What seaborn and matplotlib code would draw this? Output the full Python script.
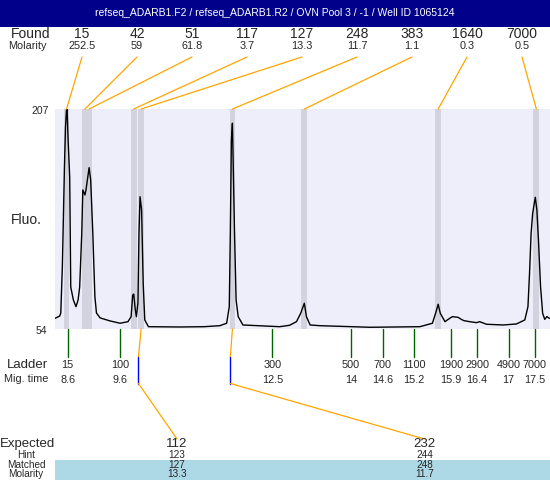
import numpy as np
import pandas as pd
import matplotlib
matplotlib.use("Agg")
import matplotlib.pyplot as plt
import matplotlib.transforms as mtransforms
import seaborn as sns

# ------------------------------------------------------------
# Data
# ------------------------------------------------------------
TITLE = "refseq_ADARB1.F2 / refseq_ADARB1.R2 / OVN Pool 3 / -1 / Well ID 1065124"

FOUND_SIZES = [15, 42, 51, 117, 127, 248, 383, 1640, 7000]
FOUND_MOLARITY = ["252.5", "59", "61.8", "3.7", "13.3", "11.7", "1.1", "0.3", "0.5"]
FOUND_TIMES = [8.58, 8.93, 9.01, 9.86, 10.0, 11.74, 13.11, 15.66, 17.53]

LADDER_SIZES = [15, 100, 300, 500, 700, 1100, 1900, 2900, 4900, 7000]
LADDER_TIMES = [8.6, 9.6, 12.5, 14, 14.6, 15.2, 15.9, 16.4, 17, 17.5]

EXPECTED = [112, 232]
HINT = [123, 244]
MATCHED = [127, 248]
MATCHED_MOLARITY = ["13.3", "11.7"]
EXPECTED_TIMES = [9.95, 11.70]
MATCHED_TIMES = [10.0, 11.74]

Y_MIN, Y_MAX = 54, 207

TRACE_TIME = [
    8.36, 8.45, 8.47, 8.50, 8.54, 8.56, 8.58, 8.59, 8.61, 8.64, 8.66, 8.71,
    8.76, 8.80, 8.83, 8.87, 8.89, 8.93, 8.95, 8.99, 9.01, 9.04, 9.08, 9.12,
    9.15, 9.22, 9.41, 9.60, 9.75, 9.81, 9.84, 9.86, 9.89, 9.91, 9.94, 9.96,
    9.98, 10.01, 10.04, 10.07, 10.14, 10.74, 11.20, 11.50, 11.63, 11.68, 11.70,
    11.72, 11.74, 11.75, 11.78, 11.81, 11.85, 11.94, 12.64, 12.83, 12.96, 13.04,
    13.11, 13.15, 13.22, 13.41, 14.36, 15.31, 15.55, 15.61, 15.66, 15.70, 15.79,
    15.85, 15.93, 16.04, 16.10, 16.15, 16.26, 16.39, 16.45, 16.58, 16.90, 17.15,
    17.31, 17.37, 17.40, 17.43, 17.46, 17.51, 17.54, 17.57, 17.61, 17.65, 17.69,
    17.73, 17.78,
]
TRACE_FLUO = [
    61.4, 63.0, 65.1, 97.1, 166.7, 194.5, 207.0, 207.0, 185.4, 159.7, 83.2, 74.2,
    69.5, 74.2, 83.2, 120.8, 150.7, 147.2, 150.7, 161.1, 166.2, 157.6, 120.8, 76.5,
    65.1, 61.7, 59.6, 58.0, 59.1, 62.6, 77.6, 78.3, 67.2, 62.6, 72.1, 120.8,
    146.0, 136.8, 86.0, 60.3, 55.6, 55.4, 55.6, 56.3, 58.0, 69.5, 120.8,
    185.4, 197.1, 178.5, 120.8, 74.2, 62.6, 56.8, 55.6, 56.6, 59.1, 64.9,
    71.9, 62.6, 56.8, 56.3, 55.2, 55.6, 58.0, 64.9, 71.2, 64.9, 59.1,
    60.7, 62.6, 62.1, 60.7, 59.8, 59.1, 58.4, 59.1, 57.3, 56.8, 57.5,
    60.3, 69.5, 92.7, 120.6, 134.5, 145.6, 136.8, 115.9, 83.4, 64.9, 60.7,
    62.6, 61.4,
]

# ------------------------------------------------------------
# Style
# ------------------------------------------------------------
C_TITLE_BG = "#00008B"
C_PLOT_BG = "#EEEEFB"
C_BAND = "#D3D3DF"
C_LINK = "#FFA500"
C_LADDER = "#006400"
C_EXPECT = "#0000FF"
C_TABLE = "#ADD8E6"

sns.set_style("white")
plt.rcParams["font.family"] = ["Liberation Sans", "DejaVu Sans"]

W, H = 550, 480
fig = plt.figure(figsize=(W / 100, H / 100), dpi=100)

# overlay in pixel units for the text rows around the plot
ov = fig.add_axes([0, 0, 1, 1], zorder=2)
ov.set_xlim(0, W)
ov.set_ylim(H, 0)
ov.axis("off")
ov.patch.set_alpha(0)

# main electropherogram area
PX_L, PX_R, PX_T, PX_B = 55, 550, 109, 329
ax = fig.add_axes([PX_L / W, 1 - PX_B / H, (PX_R - PX_L) / W, (PX_B - PX_T) / H], zorder=1)
ax.set_facecolor(C_PLOT_BG)
ax.set_xlim(8.36, 17.79)
ax.set_ylim(Y_MIN, Y_MAX)
for s in ax.spines.values():
    s.set_visible(False)
ax.set_xticks([])
ax.set_yticks([])

for t in FOUND_TIMES:
    ax.axvspan(t - 0.055, t + 0.055, color=C_BAND, lw=0, zorder=1)

trace = pd.DataFrame({"time": TRACE_TIME, "fluo": TRACE_FLUO})
sns.lineplot(data=trace, x="time", y="fluo", color="black", lw=1.0,
             sort=False, estimator=None, ax=ax, zorder=3)
ax.set_xlabel("")
ax.set_ylabel("")

# x in data time, y in pixel rows
blend = mtransforms.blended_transform_factory(ax.transData, ov.transData)

# ------------------------------------------------------------
# Title bar
# ------------------------------------------------------------
ov.add_patch(plt.Rectangle((0, 0), W, 26.5, color=C_TITLE_BG, lw=0))
ov.text(W / 2, 13.5, TITLE, color="white", fontsize=7.5, ha="center", va="center")

# ------------------------------------------------------------
# Found / Molarity rows with links to peaks
# ------------------------------------------------------------
ov.text(31, 34.5, "Found", fontsize=10, ha="center", va="center")
ov.text(27, 46, "Molarity", fontsize=7.8, ha="center", va="center")
for i, (sz, mol, t) in enumerate(zip(FOUND_SIZES, FOUND_MOLARITY, FOUND_TIMES)):
    xl = 82 + 55 * i
    ov.text(xl, 34.5, str(sz), fontsize=10, ha="center", va="center")
    ov.text(xl, 46, mol, fontsize=7.8, ha="center", va="center")
    ov.annotate("", xy=(t, Y_MAX), xycoords=ax.transData, xytext=(xl, 57),
                textcoords="data", annotation_clip=False,
                arrowprops=dict(arrowstyle="-", color=C_LINK, lw=0.9,
                                shrinkA=0, shrinkB=0))

# y-axis labels
ov.text(49, 110.5, str(Y_MAX), fontsize=7.5, ha="right", va="center")
ov.text(47, 330.5, str(Y_MIN), fontsize=7.5, ha="right", va="center")
ov.text(26, 220, "Fluo.", fontsize=10, ha="center", va="center")

# ------------------------------------------------------------
# Ladder rows
# ------------------------------------------------------------
ov.text(27, 365.5, "Ladder", fontsize=9.5, ha="center", va="center")
ov.text(26, 379.5, "Mig. time", fontsize=7.8, ha="center", va="center")
for sz, t in zip(LADDER_SIZES, LADDER_TIMES):
    ov.plot([t, t], [PX_B, 357], color=C_LADDER, lw=1.0, transform=blend)
    ov.text(t, 365.5, str(sz), fontsize=7.8, ha="center", va="center", transform=blend)
    ov.text(t, 380, f"{t:g}", fontsize=7.8, ha="center", va="center", transform=blend)

# ------------------------------------------------------------
# Expected table with links
# ------------------------------------------------------------
ov.add_patch(plt.Rectangle((PX_L, 460), W - PX_L, 20, color=C_TABLE, lw=0))
ov.text(27.5, 443.5, "Expected", fontsize=9.5, ha="center", va="center")
ov.text(26, 454.5, "Hint", fontsize=7.2, ha="center", va="center")
ov.text(26, 464.5, "Matched", fontsize=7.2, ha="center", va="center")
ov.text(26, 474, "Molarity", fontsize=7.2, ha="center", va="center")

EXP_LABEL_X = [177, 424.5]
for exp, hint, mat, mol, te, tm, xl in zip(EXPECTED, HINT, MATCHED, MATCHED_MOLARITY,
                                          EXPECTED_TIMES, MATCHED_TIMES, EXP_LABEL_X):
    ov.plot([tm, te], [PX_B, 357], color=C_LINK, lw=0.9, transform=blend)
    ov.plot([te, te], [357, 383.5], color=C_EXPECT, lw=1.0, transform=blend)
    ov.annotate("", xy=(te, 383.5), xycoords=blend, xytext=(xl, 439),
                textcoords="data", annotation_clip=False,
                arrowprops=dict(arrowstyle="-", color=C_LINK, lw=0.9,
                                shrinkA=0, shrinkB=0))
    ov.text(xl, 444, str(exp), fontsize=9.5, ha="center", va="center")
    ov.text(xl, 455, str(hint), fontsize=7.2, ha="center", va="center")
    ov.text(xl, 465, str(mat), fontsize=7.2, ha="center", va="center")
    ov.text(xl, 474, mol, fontsize=7.2, ha="center", va="center")

fig.savefig("out.png", dpi=100)
plt.close(fig)
